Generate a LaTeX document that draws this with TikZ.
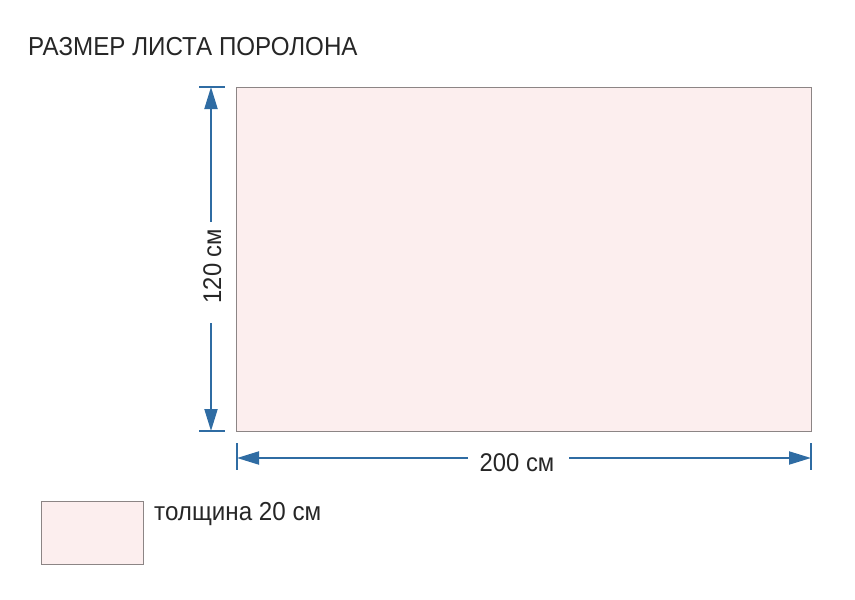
\documentclass[tikz,border=0pt]{standalone}
\usepackage{fontspec}
\setmainfont{Liberation Sans}[FakeStretch=0.93]
\usetikzlibrary{arrows.meta}
\definecolor{dimblue}{HTML}{2F6CA3}
\definecolor{foam}{HTML}{FCEEEE}
\definecolor{edgegray}{HTML}{8C8585}
\begin{document}
\begin{tikzpicture}[x=1pt,y=-1pt,
  sheet/.style={draw=edgegray,fill=foam,line width=0.8pt,inner sep=0pt,anchor=north west},
  dimline/.style={draw=dimblue,line width=2pt,-{Triangle[length=22pt,width=13pt]}},
  tickline/.style={draw=dimblue,line width=2pt},
  lbl/.style={font=\fontsize{25.6}{28}\selectfont,text=black!85,inner sep=0pt}]
\useasboundingbox (0,0) rectangle (855,600);
\node[sheet,minimum width=575pt,minimum height=344pt] (sheet) at (236,87) {};
\node[sheet,minimum width=102pt,minimum height=63pt] (legend) at (41,501) {};
\node[lbl,anchor=base west,font=\fontsize{26}{28}\selectfont] (title) at (28,55.7) {РАЗМЕР ЛИСТА ПОРОЛОНА};
\node[lbl,anchor=base west,font=\fontsize{26}{28}\selectfont] (thick) at (154,520) {толщина 20 см};
% vertical dimension
\coordinate (vt) at (211,87);
\coordinate (vb) at (211,431);
\coordinate (vg1) at (211,222);
\coordinate (vg2) at (211,323);
\node[lbl,rotate=90,anchor=base] (vlab) at (221,266) {120 см};
\draw[tickline] (199,87) -- (225,87);
\draw[tickline] (199,431) -- (225,431);
\draw[dimline] (vg1) -- (vt);
\draw[dimline] (vg2) -- (vb);
% horizontal dimension
\coordinate (hl) at (237,458);
\coordinate (hr) at (811,458);
\coordinate (hg1) at (468,458);
\coordinate (hg2) at (569,458);
\node[lbl,anchor=base] (hlab) at (517,471.7) {200 см};
\draw[tickline] (237,443) -- (237,470);
\draw[tickline] (811,443) -- (811,470);
\draw[dimline] (hg1) -- (hl);
\draw[dimline] (hg2) -- (hr);
\end{tikzpicture}
\end{document}
